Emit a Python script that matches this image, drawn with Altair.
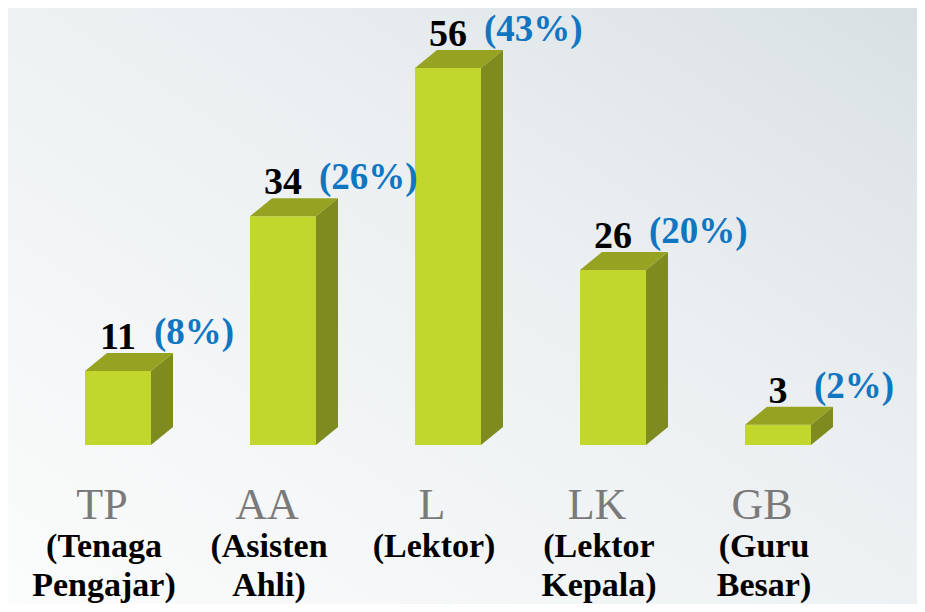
import altair as alt
import pandas as pd

# ---- data ----
codes = ["TP", "AA", "L", "LK", "GB"]
names = ["(Tenaga\nPengajar)", "(Asisten\nAhli)", "(Lektor)", "(Lektor\nKepala)", "(Guru\nBesar)"]
counts = [11, 34, 56, 26, 3]
shares = ["(8%)", "(26%)", "(43%)", "(20%)", "(2%)"]

# ---- layout / style constants ----
W, H = 909, 596
HALF = 0.2          # half bar width (category units)
DX = 0.1333         # 3D depth, horizontal (category units)
DY = 2.675          # 3D depth, vertical (value units)
X_DOMAIN = [-0.6667, 4.8424]
Y_DOMAIN = [-23.63, 64.93]
FRONT, TOP, SIDE = "#c1d72e", "#96a322", "#7e8b1f"
BLUE, GRAY = "#1176c2", "#7a7a7a"
SERIF = "'Liberation Serif', 'Times New Roman', Times, serif"

idx = list(range(len(codes)))
df = pd.DataFrame({"i": idx, "code": codes, "name": names, "v": counts, "pct": shares})
df["x0"] = df["i"] - HALF
df["x1"] = df["i"] + HALF
df["zero"] = 0
df["top"] = df["v"] + DY

side_rows, top_rows = [], []
for i, v in zip(idx, counts):
    side_rows.append({"i": i, "sx": i + HALF, "sy0": 0, "sy1": v})
    side_rows.append({"i": i, "sx": i + HALF + DX, "sy0": DY, "sy1": v + DY})
    top_rows.append({"i": i, "ty": v, "tx0": i - HALF, "tx1": i + HALF})
    top_rows.append({"i": i, "ty": v + DY, "tx0": i - HALF + DX, "tx1": i + HALF + DX})
side_df = pd.DataFrame(side_rows)
top_df = pd.DataFrame(top_rows)

xs = alt.Scale(domain=X_DOMAIN, nice=False, zero=False)
ys = alt.Scale(domain=Y_DOMAIN, nice=False, zero=False)

bg_grad = {
    "gradient": "linear", "x1": 1, "y1": 0, "x2": 0, "y2": 1,
    "stops": [
        {"offset": 0.0, "color": "#d9e0e4"},
        {"offset": 0.4, "color": "#ebeff1"},
        {"offset": 1.0, "color": "#fbfcfc"},
    ],
}
bg = alt.Chart(pd.DataFrame({"a": [0]})).mark_rect(fill=bg_grad).encode(
    x=alt.value(0), x2=alt.value(W), y=alt.value(0), y2=alt.value(H)
)

front = alt.Chart(df).mark_rect(color=FRONT).encode(
    x=alt.X("x0:Q", scale=xs, axis=None), x2="x1:Q",
    y=alt.Y("v:Q", scale=ys, axis=None), y2="zero:Q",
)
side = alt.Chart(side_df).mark_area(orient="vertical", color=SIDE).encode(
    x=alt.X("sx:Q", scale=xs, axis=None),
    y=alt.Y("sy0:Q", scale=ys, axis=None, stack=None), y2="sy1:Q",
    detail="i:N",
)
topf = alt.Chart(top_df).mark_area(orient="horizontal", color=TOP).encode(
    y=alt.Y("ty:Q", scale=ys, axis=None),
    x=alt.X("tx0:Q", scale=xs, axis=None, stack=None), x2="tx1:Q",
    detail="i:N",
)

val_txt = alt.Chart(df).mark_text(
    font=SERIF, fontSize=38, fontWeight="bold", color="#000000",
    align="center", baseline="alphabetic", dy=-4,
).encode(
    x=alt.X("i:Q", scale=xs, axis=None),
    y=alt.Y("top:Q", scale=ys, axis=None),
    text="v:Q",
)
pct_txt = alt.Chart(df).mark_text(
    font=SERIF, fontSize=37, fontWeight="bold", color=BLUE,
    align="left", baseline="alphabetic", dx=36, dy=-9,
).encode(
    x=alt.X("i:Q", scale=xs, axis=None),
    y=alt.Y("top:Q", scale=ys, axis=None),
    text="pct:N",
)
code_txt = alt.Chart(df).mark_text(
    font=SERIF, fontSize=44, fontWeight="normal", color=GRAY,
    align="center", baseline="alphabetic", dx=-16,
).encode(
    x=alt.X("i:Q", scale=xs, axis=None),
    y=alt.value(511),
    text="code:N",
)
name_txt = alt.Chart(df).mark_text(
    font=SERIF, fontSize=34, fontWeight="bold", color="#000000",
    align="center", baseline="alphabetic", lineBreak="\n", lineHeight=39, dx=-14,
).encode(
    x=alt.X("i:Q", scale=xs, axis=None),
    y=alt.value(549),
    text="name:N",
)

chart = alt.layer(bg, front, side, topf, val_txt, pct_txt, code_txt, name_txt).properties(
    width=W, height=H, padding=0,
    autosize=alt.AutoSizeParams(type="fit", contains="padding"),
).configure_view(stroke=None)

chart.save("out.html", embed_options={"renderer": "svg", "actions": False})
